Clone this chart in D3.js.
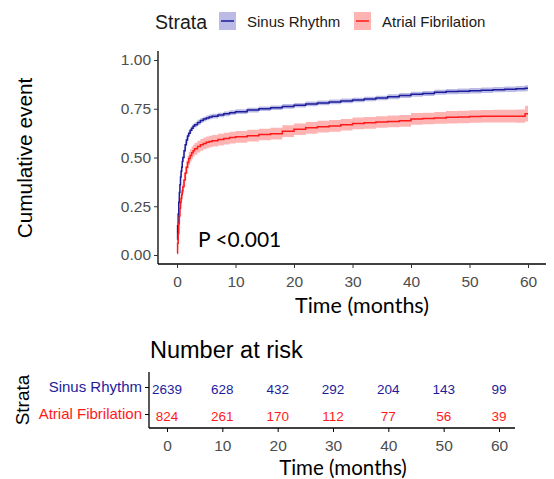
<!DOCTYPE html>
<html>
<head>
<meta charset="utf-8">
<script src="https://cdn.jsdelivr.net/npm/d3@7"></script>
<style>
  body { margin: 0; background: #fff; }
  svg { display: block; }
</style>
</head>
<body>
<div id="chart"></div>
<script>
// survival curve data
const times = [0, 0.1, 0.2, 0.3, 0.4, 0.5, 0.6, 0.7, 0.8, 0.9, 1, 1.2, 1.4, 1.6, 1.8, 2, 2.25, 2.5, 2.75, 3, 3.5, 4, 4.5, 5, 5.5, 6, 7, 8, 9, 10,
  12, 14, 16, 18, 20, 22, 24, 26, 28, 30, 32, 34, 36, 38, 40, 42, 44, 46, 48, 50, 52, 54, 56, 58, 59.5, 60];
const sinusEst = [0.08, 0.15, 0.21, 0.27, 0.32, 0.36, 0.40, 0.43, 0.45, 0.48, 0.50, 0.535, 0.565, 0.59, 0.61, 0.625, 0.64, 0.65, 0.66, 0.668, 0.68, 0.69, 0.697, 0.703, 0.708, 0.712, 0.718, 0.724, 0.73, 0.735,
  0.743, 0.75, 0.755, 0.762, 0.768, 0.775, 0.78, 0.785, 0.79, 0.795, 0.80, 0.805, 0.812, 0.818, 0.824, 0.828, 0.835, 0.838, 0.840, 0.842, 0.845, 0.848, 0.850, 0.853, 0.855, 0.855];
const sinusHalf = [0.01, 0.02, 0.02, 0.02, 0.02, 0.02, 0.02, 0.02, 0.02, 0.02, 0.02, 0.018, 0.017, 0.016, 0.015, 0.015, 0.014, 0.014, 0.013, 0.013, 0.013, 0.012, 0.012, 0.012, 0.012, 0.012, 0.012, 0.012, 0.012, 0.012,
  0.012, 0.012, 0.012, 0.012, 0.012, 0.012, 0.012, 0.012, 0.012, 0.012, 0.012, 0.012, 0.013, 0.013, 0.013, 0.013, 0.013, 0.013, 0.014, 0.014, 0.014, 0.014, 0.014, 0.014, 0.015, 0.015];
const afibEst = [0.01, 0.06, 0.11, 0.16, 0.20, 0.24, 0.27, 0.29, 0.31, 0.33, 0.35, 0.385, 0.42, 0.45, 0.475, 0.495, 0.51, 0.525, 0.535, 0.545, 0.556, 0.565, 0.572, 0.578, 0.582, 0.586, 0.592, 0.597, 0.602, 0.606,
  0.612, 0.618, 0.622, 0.635, 0.645, 0.652, 0.658, 0.662, 0.668, 0.675, 0.678, 0.682, 0.685, 0.688, 0.698, 0.700, 0.703, 0.706, 0.708, 0.710, 0.711, 0.712, 0.712, 0.712, 0.725, 0.725];
const afibHalf = [0.01, 0.025, 0.03, 0.033, 0.035, 0.035, 0.035, 0.035, 0.035, 0.035, 0.035, 0.035, 0.035, 0.034, 0.033, 0.033, 0.032, 0.032, 0.031, 0.031, 0.03, 0.03, 0.03, 0.03, 0.03, 0.03, 0.03, 0.03, 0.03, 0.03,
  0.03, 0.03, 0.03, 0.03, 0.03, 0.03, 0.03, 0.03, 0.03, 0.03, 0.03, 0.03, 0.03, 0.03, 0.03, 0.03, 0.03, 0.032, 0.032, 0.032, 0.032, 0.033, 0.033, 0.034, 0.04, 0.04];

// risk table
const strata = ["Sinus Rhythm", "Atrial Fibrilation"];
const riskTimes = [0, 10, 20, 30, 40, 50, 60];
const sinusRisk = [2639, 628, 432, 292, 204, 143, 99];
const afibRisk = [824, 261, 170, 112, 77, 56, 39];
const yTicks = [0, 0.25, 0.5, 0.75, 1];

const colors = { sinus: "#1c1c9c", afib: "#ff1a1a" };
const bands = { sinus: "rgba(30,30,170,0.3)", afib: "rgba(255,40,40,0.35)" };
const arial = "'Liberation Sans', Arial, sans-serif";
const calib = "Lato, 'Open Sans', sans-serif";

const W = 554, H = 479;
const svg = d3.select("#chart").append("svg").attr("width", W).attr("height", H);

// ---- main plot ----
const x = d3.scaleLinear().domain([0, 60]).range([177, 528]);
const y = d3.scaleLinear().domain([0, 1]).range([255, 60]);

const series = [
  { key: "sinus", est: sinusEst, half: sinusHalf },
  { key: "afib", est: afibEst, half: afibHalf }
];

const area = d3.area().curve(d3.curveStepAfter)
  .x((d) => x(d.t)).y0((d) => y(d.lo)).y1((d) => y(d.hi));
const line = d3.line().curve(d3.curveStepAfter)
  .x((d) => x(d.t)).y((d) => y(d.v));

series.forEach((s) => {
  const pts = times.map((t, i) => ({ t, v: s.est[i], lo: s.est[i] - s.half[i], hi: s.est[i] + s.half[i] }));
  svg.append("path").attr("d", area(pts)).attr("fill", bands[s.key]);
  svg.append("path").attr("d", line(pts)).attr("fill", "none")
    .attr("stroke", colors[s.key]).attr("stroke-width", 1.5);
});

const yAxis = svg.append("g").attr("transform", "translate(158,0)")
  .call(d3.axisLeft(y).tickValues(yTicks).tickFormat(d3.format(".2f")).tickSizeOuter(0).tickSize(4));
const xAxis = svg.append("g").attr("transform", "translate(0,264)")
  .call(d3.axisBottom(x).tickValues(riskTimes).tickSizeOuter(0).tickSize(4));
[yAxis, xAxis].forEach((g) => {
  g.select(".domain").attr("stroke", "#000").attr("stroke-width", 1.3);
  g.selectAll(".tick line").attr("stroke", "#333");
  g.selectAll("text").attr("fill", "#4d4d4d").style("font-family", arial).style("font-size", "15.5px");
});
// extend axes like ggplot
yAxis.select(".domain").attr("d", "M0,51V264");
xAxis.select(".domain").attr("d", "M158,0H546");
xAxis.selectAll(".tick text").attr("dy", "1.05em");

svg.append("text").attr("x", 362).attr("y", 313).attr("text-anchor", "middle")
  .style("font-family", calib).style("font-size", "21.5px").text("Time (months)");
svg.append("text").attr("transform", "translate(32,158) rotate(-90)").attr("text-anchor", "middle")
  .style("font-family", arial).style("font-size", "20.8px").text("Cumulative event");
svg.append("text").attr("x", 198).attr("y", 247)
  .style("font-family", calib).style("font-size", "21px").text("P <0.001");

// ---- legend ----
svg.append("text").attr("x", 155).attr("y", 29)
  .style("font-family", arial).style("font-size", "19.5px").attr("fill", "#1a1a1a").text("Strata");
const legendX = [219, 354];
series.forEach((s, i) => {
  svg.append("rect").attr("x", legendX[i]).attr("y", 12).attr("width", 17).attr("height", 18)
    .attr("fill", bands[s.key]);
  svg.append("line").attr("x1", legendX[i] + 2).attr("x2", legendX[i] + 15).attr("y1", 21).attr("y2", 21)
    .attr("stroke", colors[s.key]).attr("stroke-width", 1.5);
  svg.append("text").attr("x", legendX[i] + 28).attr("y", 27)
    .style("font-family", arial).style("font-size", "15px").attr("fill", "#1a1a1a").text(strata[i]);
});

// ---- risk table ----
const xr = d3.scaleLinear().domain([0, 60]).range([167, 499]);
const yr = d3.scaleBand().domain(strata).range([374, 428]).padding(0);

svg.append("text").attr("x", 150).attr("y", 358)
  .style("font-family", arial).style("font-size", "23.5px").text("Number at risk");

const riskRows = [sinusRisk, afibRisk];
const rowColors = [colors.sinus, colors.afib];
strata.forEach((st, i) => {
  svg.append("g").selectAll("text").data(riskRows[i]).join("text")
    .attr("x", (d, j) => xr(riskTimes[j]))
    .attr("y", yr(st) + yr.bandwidth() / 2 + 6)
    .attr("text-anchor", "middle")
    .attr("fill", rowColors[i])
    .style("font-family", arial).style("font-size", "13.5px")
    .text((d) => d);
});

const ryAxis = svg.append("g").attr("transform", "translate(149,0)")
  .call(d3.axisLeft(yr).tickSize(4).tickSizeOuter(0));
ryAxis.selectAll(".tick text").style("font-family", arial).style("font-size", "15px")
  .attr("fill", (d, i) => rowColors[i]);
ryAxis.select(".domain").attr("d", "M0,372V428").attr("stroke", "#000").attr("stroke-width", 1.3);

const rxAxis = svg.append("g").attr("transform", "translate(0,428)")
  .call(d3.axisBottom(xr).tickValues(riskTimes).tickSize(4).tickSizeOuter(0));
rxAxis.select(".domain").attr("d", "M149,0H515").attr("stroke", "#000").attr("stroke-width", 1.3);
rxAxis.selectAll(".tick text").attr("fill", "#4d4d4d").attr("dy", "1.05em")
  .style("font-family", arial).style("font-size", "15.5px");

svg.append("text").attr("x", 343).attr("y", 475).attr("text-anchor", "middle")
  .style("font-family", calib).style("font-size", "20.5px").text("Time (months)");
svg.append("text").attr("transform", "translate(29,400) rotate(-90)").attr("text-anchor", "middle")
  .style("font-family", arial).style("font-size", "19px").text("Strata");
</script>
</body>
</html>
